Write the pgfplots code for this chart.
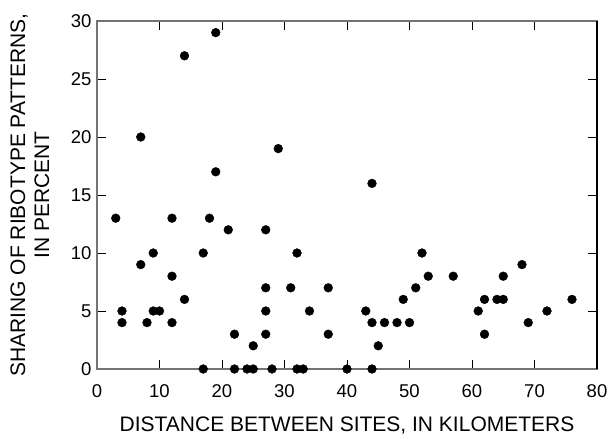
\documentclass[border=0pt]{standalone}
\usepackage{fontspec}
\setmainfont{Liberation Sans}
\usepackage{pgfplots}
\pgfplotsset{compat=1.18}
\begin{document}
\begin{tikzpicture}
\begin{axis}[
  name=ax,
  scale only axis,
  width=500pt, height=348pt,
  xmin=0, xmax=80, ymin=0, ymax=30,
  xtick={0,10,...,80}, ytick={0,5,...,30},
  tick align=inside,
  major tick length=9pt,
  tick style={black, line width=0.8pt},
  axis line style={black!55, line width=1.2pt},
  /pgf/number format/assume math mode=true,
  ticklabel style={font=\fontsize{18.5}{21}\selectfont},
  xticklabel style={yshift=-12pt},
  yticklabel style={xshift=-2pt},
  clip=false,
  xlabel={DISTANCE BETWEEN SITES, IN KILOMETERS},
  xlabel style={at={(axis description cs:0.5,0)}, anchor=center, yshift=-57pt, font=\fontsize{21}{24}\selectfont},
  ylabel={SHARING OF RIBOTYPE PATTERNS,\\IN PERCENT},
  ylabel style={at={(axis description cs:0,0.5)}, anchor=center, yshift=67pt, align=center, font=\fontsize{21}{24}\selectfont},
]
\addplot[only marks, mark=*, mark size=4.4pt, black] coordinates {
(3,13)(4,5)(4,4)(7,20)(7,9)(8,4)(9,10)(9,5)(10,5)(12,13)(12,8)(12,4)
(14,27)(14,6)(17,10)(17,0)(18,13)(19,29)(19,17)(21,12)(22,3)(22,0)
(24,0)(25,2)(25,0)(27,12)(27,7)(27,5)(27,3)(28,0)(29,19)(31,7)(32,10)
(32,0)(33,0)(34,5)(37,7)(37,3)(40,0)(43,5)(44,16)(44,4)(44,0)(45,2)
(46,4)(48,4)(49,6)(50,4)(51,7)(52,10)(53,8)(57,8)(61,5)(62,6)(62,3)
(64,6)(65,6)(65,8)(68,9)(69,4)(72,5)(76,6)
};
\draw[black, line width=1.2pt] (rel axis cs:1,0) -- (rel axis cs:1,1);
\end{axis}
\pgfresetboundingbox
\path[use as bounding box] ([shift={(-97pt,-70pt)}]ax.south west) rectangle ([shift={(11pt,21pt)}]ax.north east);
\end{tikzpicture}
\end{document}
